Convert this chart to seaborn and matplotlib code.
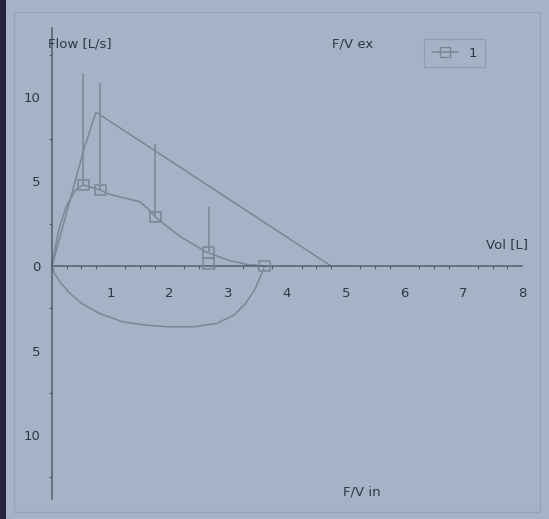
import numpy as np
import pandas as pd
import matplotlib
matplotlib.use("Agg")
import matplotlib.pyplot as plt
from matplotlib.lines import Line2D
from matplotlib.patches import Rectangle
import seaborn as sns

# ---- data ----
pred_vol = [0.0, 0.55, 0.75, 4.75]
pred_flow = [0.0, 7.0, 9.1, 0.0]

ex_vol = [0.0, 0.05, 0.12, 0.24, 0.40, 0.53, 0.82, 0.93, 1.20, 1.50, 1.66, 1.76, 1.90, 2.20, 2.64, 3.00, 3.30, 3.62]
ex_flow = [0.0, 1.0, 2.2, 3.5, 4.5, 4.8, 4.5, 4.3, 4.05, 3.8, 3.3, 2.9, 2.5, 1.7, 0.8, 0.35, 0.1, 0.0]

in_vol = [0.0, 0.05, 0.15, 0.30, 0.50, 0.80, 1.20, 1.60, 2.00, 2.40, 2.80, 3.10, 3.30, 3.45, 3.55, 3.62]
in_flow = [0.0, -0.5, -1.0, -1.6, -2.2, -2.8, -3.3, -3.5, -3.6, -3.6, -3.4, -2.9, -2.2, -1.4, -0.6, 0.0]

mk_vol = [0.53, 0.82, 1.76, 2.67, 2.67, 3.62]
mk_flow = [4.8, 4.5, 2.9, 0.8, 0.15, 0.0]
mk_top = [11.4, 10.8, 7.2, 3.5, 0.15, 0.0]

x_ticks = [1, 2, 3, 4, 5, 6, 7, 8]
y_ticks = [-10, -5, 0, 5, 10]
y_tick_labels = ["10", "5", "0", "5", "10"]

# ---- style ----
panel = "#a6b3c7"
line_c = "#7b8596"
axis_c = "#535d6e"
text_c = "#2f3644"

sns.set_theme(style="white")
plt.rcParams["font.family"] = ["DejaVu Sans"]

W, H = 549, 519
fig = plt.figure(figsize=(W / 100, H / 100), dpi=100)
fig.patch.set_facecolor(panel)

# axes placement: 1 L = 58.75 px (x0 at px 52), 1 L/s = 16.9 px (y0 at px 266)
xl = (-0.5, 8.3)
yl = (-14.5, 14.5)
left_px = 52 + xl[0] * 58.75
right_px = 52 + xl[1] * 58.75
top_px = 266 - yl[1] * 16.9
bot_px = 266 - yl[0] * 16.9
ax = fig.add_axes([left_px / W, 1 - bot_px / H, (right_px - left_px) / W, (bot_px - top_px) / H])
ax.set_facecolor("none")
ax.set_xlim(*xl)
ax.set_ylim(*yl)

# curves
sns.lineplot(x=pred_vol, y=pred_flow, sort=False, ax=ax, color=line_c, lw=1.1, estimator=None)
sns.lineplot(x=ex_vol, y=ex_flow, sort=False, ax=ax, color=line_c, lw=1.1, estimator=None)
sns.lineplot(x=in_vol, y=in_flow, sort=False, ax=ax, color=line_c, lw=1.1, estimator=None)

# error bars and markers
ax.vlines(mk_vol, mk_flow, mk_top, color=line_c, lw=1.1)
sns.scatterplot(x=mk_vol, y=mk_flow, ax=ax, marker="s", s=60, facecolor="none",
                edgecolor=line_c, linewidth=1.1, zorder=5)

# axes through origin
for s in ["top", "right"]:
    ax.spines[s].set_visible(False)
ax.spines["left"].set_position(("data", 0))
ax.spines["bottom"].set_position(("data", 0))
ax.spines["left"].set_bounds(-13.8, 14.1)
ax.spines["bottom"].set_bounds(0, 8)
for s in ["left", "bottom"]:
    ax.spines[s].set_color(axis_c)
    ax.spines[s].set_linewidth(1.1)

ax.set_xticks(x_ticks)
ax.set_xticklabels([str(v) for v in x_ticks])
ax.set_yticks(y_ticks)
ax.set_yticklabels(y_tick_labels)
ax.set_xticks(np.arange(0.25, 8.0, 0.25), minor=True)
ax.set_yticks(np.arange(-12.5, 14.0, 2.5), minor=True)
ax.tick_params(axis="x", which="major", direction="out", length=4, width=1, color=axis_c,
               labelcolor=text_c, labelsize=9.5, pad=11)
ax.tick_params(axis="y", which="major", direction="out", length=4, width=1, color=axis_c,
               labelcolor=text_c, labelsize=9.5, pad=4)
ax.tick_params(which="minor", direction="out", length=2, width=0.8, color=axis_c,
               bottom=True, left=True)
ax.grid(False)
ax.set_xlabel("")
ax.set_ylabel("")

# texts
fig.text(48 / W, 1 - 44 / H, "Flow [L/s]", fontsize=9.5, color=text_c, va="center", ha="left")
fig.text(332 / W, 1 - 44 / H, "F/V ex", fontsize=9.5, color=text_c, va="center", ha="left")
fig.text(343 / W, 1 - 492 / H, "F/V in", fontsize=9.5, color=text_c, va="center", ha="left")
fig.text(528 / W, 1 - 245 / H, "Vol [L]", fontsize=9.5, color=text_c, va="center", ha="right")

# legend
handle = Line2D([], [], color=line_c, lw=1.1, marker="s", markersize=7,
                markerfacecolor="none", markeredgecolor=line_c)
leg = fig.legend([handle], ["1"], loc="upper left",
                 bbox_to_anchor=(417 / W, 1 - 32 / H), frameon=True, fancybox=False,
                 fontsize=9.5, handlelength=2.0, borderpad=0.6, labelcolor=text_c)
leg.get_frame().set_facecolor("none")
leg.get_frame().set_edgecolor("#8e99ab")
leg.get_frame().set_linewidth(1.0)

# frame and dark left strip (photo border)
fig.patches.append(Rectangle((14 / W, 1 - 512 / H), (540 - 14) / W, (512 - 12) / H,
                             transform=fig.transFigure, fill=False, edgecolor="#97a3b6", lw=1.0))
fig.patches.append(Rectangle((0, 0), 6 / W, 1, transform=fig.transFigure,
                             facecolor="#24243f", edgecolor="none"))

fig.savefig("out.png", dpi=100, facecolor=fig.get_facecolor())
